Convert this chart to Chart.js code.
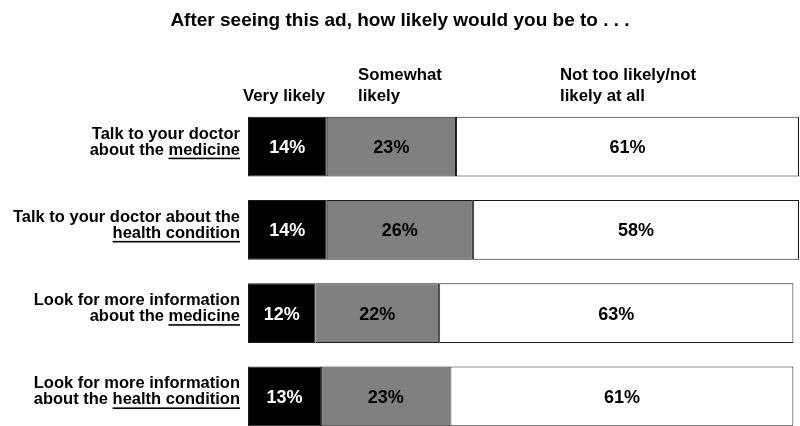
<!DOCTYPE html>
<html>
<head>
<meta charset="utf-8">
<script src="https://cdn.jsdelivr.net/npm/chart.js@4/dist/chart.umd.min.js"></script>
<style>
  html, body { margin: 0; padding: 0; background: #fff; overflow: hidden; }
  #wrap { width: 800px; height: 426px; overflow: hidden; }
</style>
</head>
<body>
<div id="wrap"><canvas id="adChart" width="800" height="440"></canvas></div>
<script>
const categories = [
  "Talk to your doctor about the medicine",
  "Talk to your doctor about the health condition",
  "Look for more information about the medicine",
  "Look for more information about the health condition",
];
// category labels split over two lines, the last part gets underlined
const labelTop = ["Talk to your doctor", "Talk to your doctor about the", "Look for more information", "Look for more information"];
const labelBottom = ["about the ", "", "about the ", "about the "];
const labelUnderlined = ["medicine", "health condition", "medicine", "health condition"];

const seriesNames = ["Very likely", "Somewhat likely", "Not too likely/not likely at all"];
const headerLines = [["Very likely"], ["Somewhat", "likely"], ["Not too likely/not", "likely at all"]];

const veryLikely = [14, 14, 12, 13];
const somewhatLikely = [23, 26, 22, 23];
const notLikely = [61, 58, 63, 61];

const FONT = '"Liberation Sans", Arial, sans-serif';

// title, column headers, wrapped category labels and the percentages
const labelsPlugin = {
  id: "labels",
  afterDraw(chart) {
    const ctx = chart.ctx;
    const area = chart.chartArea;
    const yScale = chart.scales.y;
    ctx.save();
    ctx.fillStyle = "#000";

    // title
    ctx.font = "bold 19px " + FONT;
    ctx.textAlign = "center";
    ctx.textBaseline = "alphabetic";
    ctx.fillText("After seeing this ad, how likely would you be to . . .", chart.width / 2, 26);

    // column headers, bottom-aligned
    ctx.font = "bold 16.8px " + FONT;
    ctx.textAlign = "left";
    const headerX = [area.left - 5, area.left + 110, area.left + 312];
    headerLines.forEach((lines, i) => {
      lines.forEach((line, j) => {
        const y = 101 - (lines.length - 1 - j) * 21;
        ctx.fillText(line, headerX[i], y);
      });
    });

    // category labels
    ctx.font = "bold 16.5px " + FONT;
    ctx.textAlign = "right";
    const right = area.left - 8;
    categories.forEach((c, i) => {
      const cy = yScale.getPixelForValue(i);
      ctx.fillText(labelTop[i], right, cy - 8);
      ctx.fillText(labelBottom[i] + labelUnderlined[i], right, cy + 8);
      const w = ctx.measureText(labelUnderlined[i]).width;
      ctx.fillRect(right - w, cy + 11, w, 1.6);
    });

    // values inside the segments
    ctx.font = "bold 18px " + FONT;
    ctx.textAlign = "center";
    chart.data.datasets.forEach((ds, d) => {
      const meta = chart.getDatasetMeta(d);
      ctx.fillStyle = d === 0 ? "#fff" : "#000";
      meta.data.forEach((el, i) => {
        const x = (el.x + el.base) / 2;
        ctx.fillText(ds.data[i] + "%", x, el.y + 6.5);
      });
    });
    ctx.restore();
  },
};

const barStyle = {
  borderColor: "#1a1a1a",
  borderWidth: 1,
  borderSkipped: false,
  barPercentage: 0.72,
  categoryPercentage: 1,
};

const config = {
  type: "bar",
  data: {
    labels: categories,
    datasets: [
      { label: seriesNames[0], data: veryLikely, backgroundColor: "#000000", ...barStyle },
      { label: seriesNames[1], data: somewhatLikely, backgroundColor: "#808080", ...barStyle },
      { label: seriesNames[2], data: notLikely, backgroundColor: "#ffffff", ...barStyle },
    ],
  },
  options: {
    indexAxis: "y",
    responsive: false,
    animation: false,
    events: [],
    layout: {
      padding: { left: 248, right: 1, top: 105, bottom: 2 },
    },
    plugins: {
      legend: { display: false },
      tooltip: { enabled: false },
    },
    scales: {
      x: { stacked: true, min: 0, max: 98, display: false },
      y: { stacked: true, display: false },
    },
  },
  plugins: [labelsPlugin],
};

const adChart = new Chart(document.getElementById("adChart"), config);
</script>
</body>
</html>
